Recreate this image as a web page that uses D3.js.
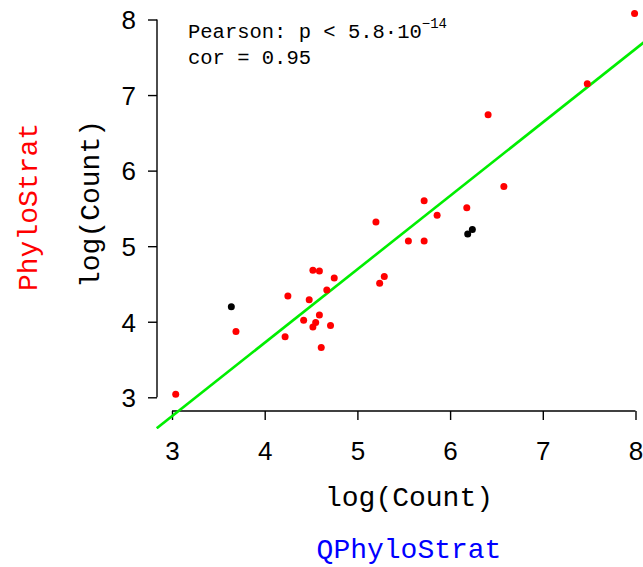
<!DOCTYPE html>
<html>
<head>
<meta charset="utf-8">
<script src="https://cdn.jsdelivr.net/npm/d3@7"></script>
<style>
  html, body { margin: 0; padding: 0; background: #fff; }
  svg { display: block; }
</style>
</head>
<body>
<svg id="chart" width="643" height="567"></svg>
<script>
// ---- data ----
const redX = [3.04, 3.69, 4.22, 4.25, 4.42, 4.48, 4.52, 4.59, 4.67, 4.75, 4.59, 4.55, 4.52, 4.71, 4.61,
              5.20, 5.29, 5.24, 5.55, 5.72, 5.72, 5.86, 6.18, 6.41, 6.58, 7.48, 7.99];
const redY = [3.04, 3.87, 3.80, 4.34, 4.02, 4.29, 4.68, 4.67, 4.42, 4.58, 4.09, 3.99, 3.93, 3.95, 3.66,
              5.32, 4.60, 4.51, 5.07, 5.07, 5.60, 5.41, 5.51, 6.74, 5.79, 7.15, 8.08];
const blackX = [3.64, 6.19, 6.24];
const blackY = [4.20, 5.16, 5.22];
const xTicks = [3, 4, 5, 6, 7, 8];
const yTicks = [3, 4, 5, 6, 7, 8];
const fitSlope = 0.972;
const fitIntercept = -0.166;
const fitRange = [2.835, 8.2];
const xLabel = "log(Count)";
const yLabel = "log(Count)";
const xMethod = "QPhyloStrat";
const yMethod = "PhyloStrat";
const annotLine1 = "Pearson: p < 5.8\u00B710";
const annotExp = "\u221214";
const annotLine2 = "cor = 0.95";

// ---- layout ----
const svg = d3.select("#chart");
const x = d3.scaleLinear().domain([3, 8]).range([172, 635.5]);
const y = d3.scaleLinear().domain([3, 8]).range([397.3, 19.5]);
const xAxisY = 411;
const yAxisX = 157;
const mono = "'Liberation Mono', 'Courier New', monospace";
const sans = "'Liberation Sans', Arial, sans-serif";

// clip for plot region
svg.append("defs").append("clipPath").attr("id", "plotclip")
  .append("rect").attr("x", 154).attr("y", 0).attr("width", 643 - 154).attr("height", 429);

// x axis
const xAxis = d3.axisBottom(x).tickValues(xTicks).tickSize(9).tickPadding(6).tickFormat(d3.format("d"));
const gx = svg.append("g").attr("transform", `translate(0,${xAxisY})`).call(xAxis);
gx.select(".domain").attr("d", `M${x(3)},0H${x(8)}`).attr("stroke", "#000").attr("stroke-width", 1.4);
gx.selectAll(".tick line").attr("stroke", "#000").attr("stroke-width", 1.4);
gx.selectAll(".tick text").attr("font-family", sans).attr("font-size", 26).attr("fill", "#000")
  .attr("dy", "0.71em").attr("y", 31);

// y axis
const yAxis = d3.axisLeft(y).tickValues(yTicks).tickSize(9).tickPadding(12).tickFormat(d3.format("d"));
const gy = svg.append("g").attr("transform", `translate(${yAxisX},0)`).call(yAxis);
gy.select(".domain").attr("d", `M0,${y(3)}V${y(8)}`).attr("stroke", "#000").attr("stroke-width", 1.4);
gy.selectAll(".tick line").attr("stroke", "#000").attr("stroke-width", 1.4);
gy.selectAll(".tick text").attr("font-family", sans).attr("font-size", 26).attr("fill", "#000")
  .attr("x", -21).attr("dy", "0.36em");

// regression line
const plot = svg.append("g").attr("clip-path", "url(#plotclip)");
plot.append("line")
  .attr("x1", x(fitRange[0])).attr("y1", y(fitIntercept + fitSlope * fitRange[0]))
  .attr("x2", x(fitRange[1])).attr("y2", y(fitIntercept + fitSlope * fitRange[1]))
  .attr("stroke", "#00ee00").attr("stroke-width", 2.6);

// points
const redPts = redX.map((v, i) => ({ x: v, y: redY[i] }));
const blackPts = blackX.map((v, i) => ({ x: v, y: blackY[i] }));
plot.selectAll("circle.red").data(redPts).enter().append("circle")
  .attr("class", "red").attr("cx", d => x(d.x)).attr("cy", d => y(d.y)).attr("r", 3.5).attr("fill", "#ff0000");
plot.selectAll("circle.black").data(blackPts).enter().append("circle")
  .attr("class", "black").attr("cx", d => x(d.x)).attr("cy", d => y(d.y)).attr("r", 3.5).attr("fill", "#000");

// annotation
const ann = svg.append("text").attr("x", 188).attr("y", 37.5)
  .attr("font-family", mono).attr("font-size", 20.5).attr("fill", "#000");
ann.append("tspan").text(annotLine1);
ann.append("tspan").attr("dy", -10).attr("font-size", 14).text(annotExp);
svg.append("text").attr("x", 188).attr("y", 63.5)
  .attr("font-family", mono).attr("font-size", 20.5).attr("fill", "#000").text(annotLine2);

// axis labels
svg.append("text").attr("x", 409).attr("y", 506).attr("text-anchor", "middle")
  .attr("font-family", mono).attr("font-size", 28).attr("fill", "#000").text(xLabel);
svg.append("text").attr("x", 409).attr("y", 558).attr("text-anchor", "middle")
  .attr("font-family", mono).attr("font-size", 28).attr("fill", "#0000ff").text(xMethod);
svg.append("text").attr("transform", "translate(99,204) rotate(-90)").attr("text-anchor", "middle")
  .attr("font-family", mono).attr("font-size", 28).attr("fill", "#000").text(yLabel);
svg.append("text").attr("transform", "translate(37,207) rotate(-90)").attr("text-anchor", "middle")
  .attr("font-family", mono).attr("font-size", 28).attr("fill", "#ff0000").text(yMethod);
</script>
</body>
</html>
